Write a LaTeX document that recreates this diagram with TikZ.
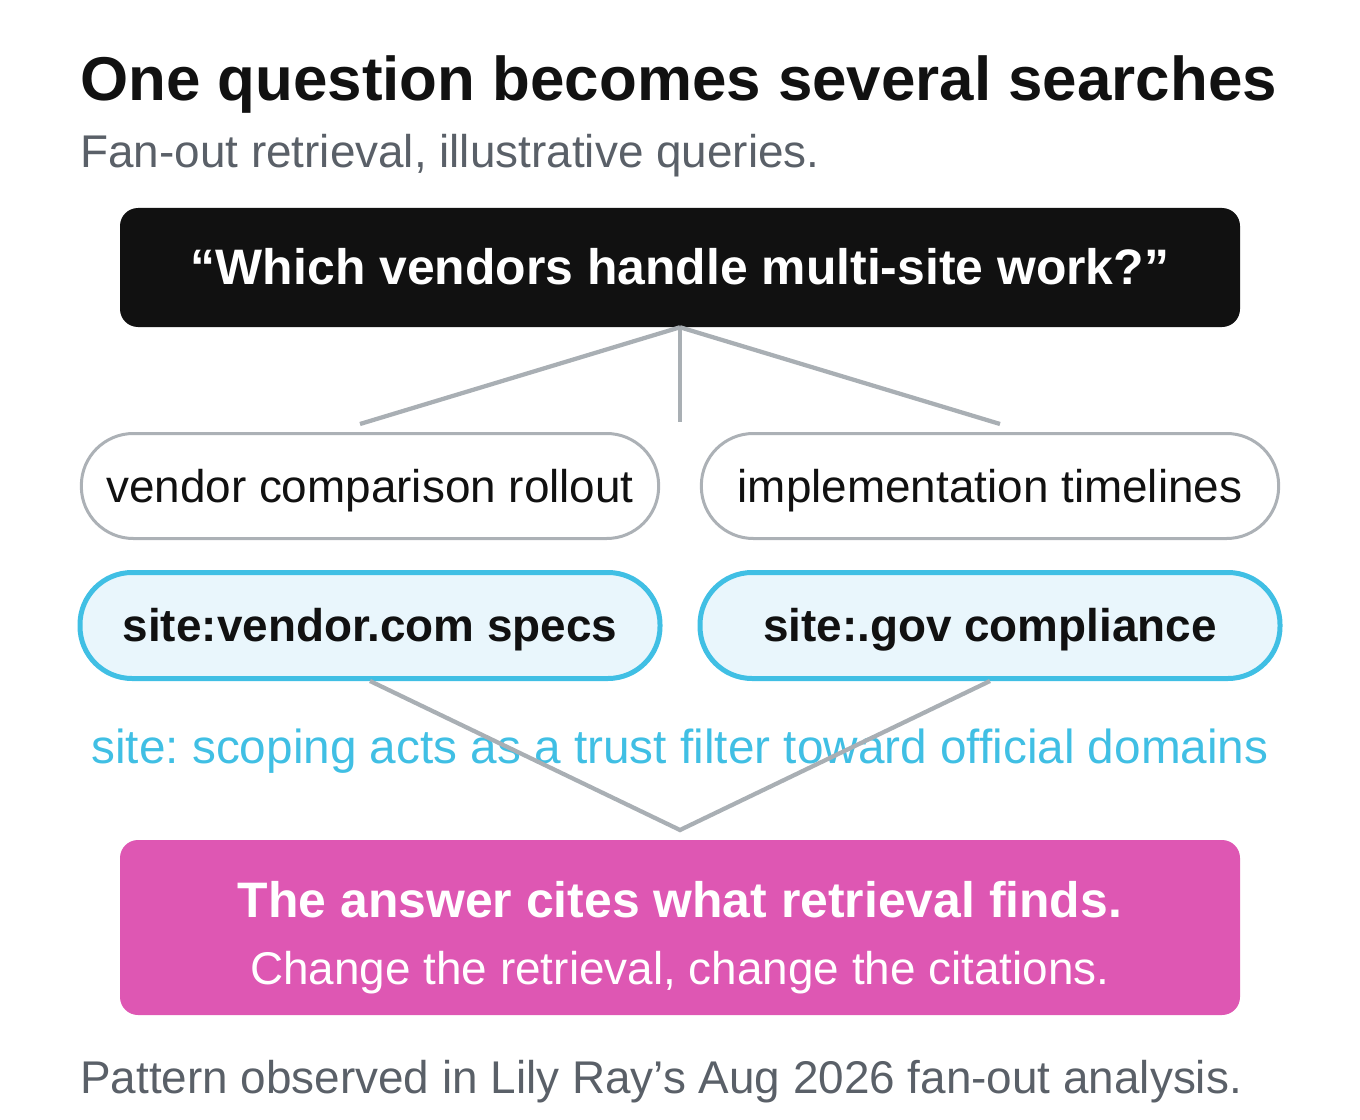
\documentclass[tikz,border=0pt]{standalone}
\usepackage{fontspec}
\setmainfont{Liberation Sans}
\frenchspacing
\tikzset{
  fanline/.style={color={rgb, 255:red, 169; green, 175; blue, 180 }, line width=3.2pt},
  querybox/.style={fill={rgb, 255:red, 17; green, 17; blue, 17 }, rounded corners=13.5pt, minimum width=840pt, minimum height=89.25pt, text height=32pt, text depth=6pt, inner sep=0pt, text=white, font=\bfseries\fontsize{37.4}{44}\selectfont},
  plainpill/.style={draw={rgb, 255:red, 172; green, 177; blue, 182 }, line width=2.25pt, fill=white, rounded corners=39pt, minimum width=433pt, minimum height=78.75pt, text height=30pt, text depth=6pt, inner sep=0pt, text={rgb, 255:red, 17; green, 17; blue, 17 }, font=\fontsize{34.4}{41}\selectfont},
  sitepill/.style={plainpill, draw={rgb, 255:red, 64; green, 191; blue, 228 }, line width=3.75pt, fill={rgb, 255:red, 233; green, 246; blue, 252 }, minimum width=435pt, minimum height=79.5pt, font=\bfseries\fontsize{34.4}{41}\selectfont},
  answerbox/.style={fill={rgb, 255:red, 222; green, 87; blue, 179 }, rounded corners=13.5pt, minimum width=840pt, minimum height=131.25pt, inner sep=0pt},
  graytext/.style={text={rgb, 255:red, 90; green, 96; blue, 104 }, inner sep=0pt, font=\fontsize{34.4}{41}\selectfont}
}
\begin{document}
\begin{tikzpicture}[x=0.75pt,y=0.75pt,yscale=-1,xscale=1]
%set diagram from 0 to 1360 wide, 1120 high
\useasboundingbox (0,0) rectangle (1360,1120);
% Text Node
\draw (80,101) node [anchor=base west][inner sep=0pt][text={rgb, 255:red, 17; green, 17; blue, 17 }, font=\bfseries\fontsize{46.4}{56}\selectfont] (title) {One question becomes several searches};
% Text Node
\draw (80,168) node [anchor=base west][graytext] (subtitle) {Fan-out retrieval, illustrative queries.};
%Shape: Rectangle [id:query]
\draw (680,267.5) node [querybox] (query) {“Which vendors handle multi-site work?”};
%Shape: Pills
\draw (370,486) node [plainpill] (vendor) {vendor comparison rollout};
\draw (990,486) node [plainpill] (timelines) {implementation timelines};
\draw (370,625.5) node [sitepill] (sitevendor) {site:vendor.com specs};
\draw (990,625.5) node [sitepill] (sitegov) {site:.gov compliance};
% Text Node
\draw (680,763) node [anchor=base][inner sep=0pt][text={rgb, 255:red, 64; green, 191; blue, 228 }, font=\fontsize{35.8}{43}\selectfont] (trustnote) {site: scoping acts as a trust filter toward official domains};
%Straight Lines
\coordinate (fanL) at (360,424);
\coordinate (fanM) at (680,422);
\coordinate (fanR) at (1000,424);
\coordinate (merge) at (680,830);
\draw [fanline] (query.south) -- (fanL);
\draw [fanline] (query.south) -- (fanM);
\draw [fanline] (query.south) -- (fanR);
\draw [fanline] (sitevendor.south) -- (merge) -- (sitegov.south);
%Shape: Rectangle [id:answer]
\draw (680,927.5) node [answerbox] (answer) {};
% Text Node
\draw (680,917) node [anchor=base][inner sep=0pt][text=white, font=\bfseries\fontsize{37.4}{44}\selectfont] (answertitle) {The answer cites what retrieval finds.};
% Text Node
\draw (680,984) node [anchor=base][inner sep=0pt][text=white, font=\fontsize{34.4}{41}\selectfont] (answernote) {Change the retrieval, change the citations.};
% Text Node
\draw (80,1093) node [anchor=base west][graytext] (footer) {Pattern observed in Lily Ray’s Aug 2026 fan-out analysis.};
\end{tikzpicture}
\end{document}
